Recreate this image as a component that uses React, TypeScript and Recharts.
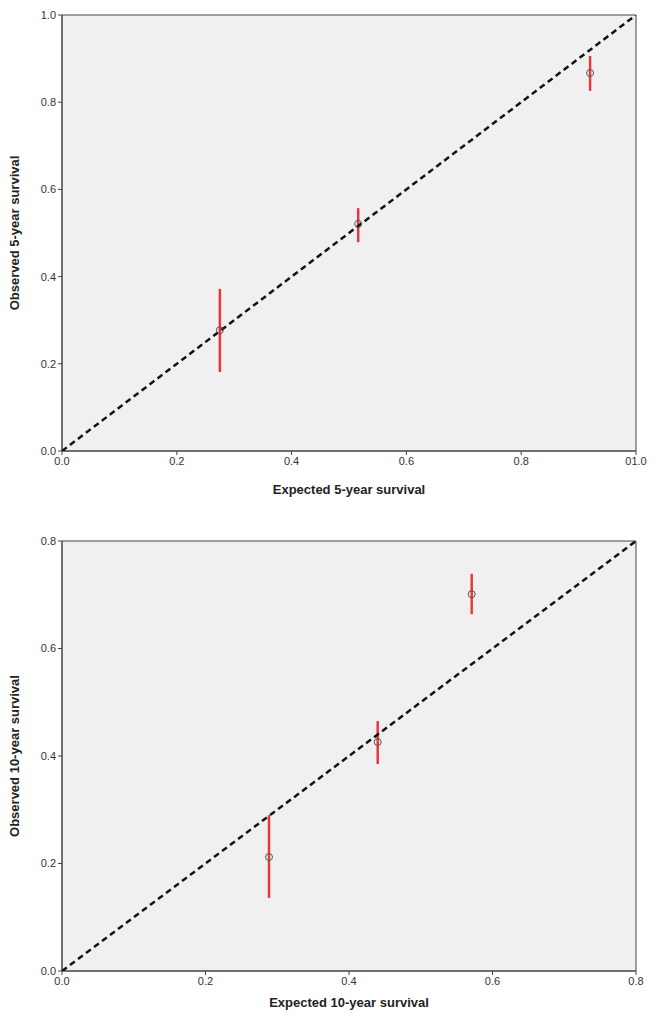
import React from "react";
import {
  ScatterChart, Scatter, XAxis, YAxis, ErrorBar, ReferenceArea,
} from "recharts";

// 5-year calibration
const exp5 = [0.275, 0.516, 0.92];
const obs5 = [0.277, 0.521, 0.867];
const lo5 = [0.181, 0.479, 0.826];
const hi5 = [0.372, 0.557, 0.906];
const ticks5 = [0, 0.2, 0.4, 0.6, 0.8, 1.0];

// 10-year calibration
const exp10 = [0.2885, 0.44, 0.571];
const obs10 = [0.212, 0.426, 0.701];
const lo10 = [0.136, 0.385, 0.664];
const hi10 = [0.29, 0.465, 0.739];
const ticks10 = [0, 0.2, 0.4, 0.6, 0.8];

const build = (xs: number[], ys: number[], lo: number[], hi: number[]) =>
  xs.map((x, i) => ({ x, y: ys[i], err: [ys[i] - lo[i], hi[i] - ys[i]] }));

const tickStyle = { fontSize: 11, fill: "#333", fontFamily: "Liberation Sans, Arial" };
const labelStyle = { fontSize: 13, fontWeight: 700, fill: "#222", fontFamily: "Liberation Sans, Arial" };

const Ring = (p: any) => (
  <circle cx={p.cx} cy={p.cy} r={3.5} fill="none" stroke="#555" strokeWidth={1} />
);

function Calib({ data, max, ticks, xLabel, yLabel, height, margin, xFmt, labelOffset }: any) {
  const diag = [{ x: 0, y: 0 }, { x: max, y: max }];
  return (
    <ScatterChart width={653} height={height} margin={margin}>
      <XAxis type="number" dataKey="x" domain={[0, max]} ticks={ticks} tickFormatter={xFmt}
        tick={tickStyle} stroke="#444" tickSize={4} height={40} allowDataOverflow
        label={{ value: xLabel, position: "insideBottom", offset: labelOffset, style: labelStyle }} />
      <YAxis type="number" dataKey="y" domain={[0, max]} ticks={ticks} tickFormatter={(v: number) => v.toFixed(1)}
        tick={tickStyle} stroke="#444" tickSize={4} width={40} allowDataOverflow
        label={{ value: yLabel, angle: -90, position: "insideLeft", offset: -8, style: { ...labelStyle, textAnchor: "middle" } }} />
      <ReferenceArea x1={0} x2={max} y1={0} y2={max} fill="#f0f0f0" fillOpacity={1} stroke="#444" strokeWidth={1} />
      <Scatter data={diag} line={{ stroke: "#111", strokeWidth: 2.5, strokeDasharray: "6 4" }} shape={() => null} isAnimationActive={false} />
      <Scatter data={data} shape={Ring} isAnimationActive={false}>
        <ErrorBar dataKey="err" direction="y" width={0} stroke="#e8383d" strokeWidth={2.5} />
      </Scatter>
    </ScatterChart>
  );
}

export default function App() {
  return (
    <div style={{ width: 653 }}>
      <Calib data={build(exp5, obs5, lo5, hi5)} max={1} ticks={ticks5}
        xFmt={(v: number) => (v === 1 ? "01.0" : v.toFixed(1))}
        xLabel="Expected 5-year survival" yLabel="Observed 5-year survival" labelOffset={-3}
        height={520} margin={{ top: 7, right: 25, left: 14, bottom: 37 }} />
      <Calib data={build(exp10, obs10, lo10, hi10)} max={0.8} ticks={ticks10}
        xFmt={(v: number) => v.toFixed(1)}
        xLabel="Expected 10-year survival" yLabel="Observed 10-year survival" labelOffset={4}
        height={483} margin={{ top: 13, right: 25, left: 14, bottom: 0 }} />
    </div>
  );
}
